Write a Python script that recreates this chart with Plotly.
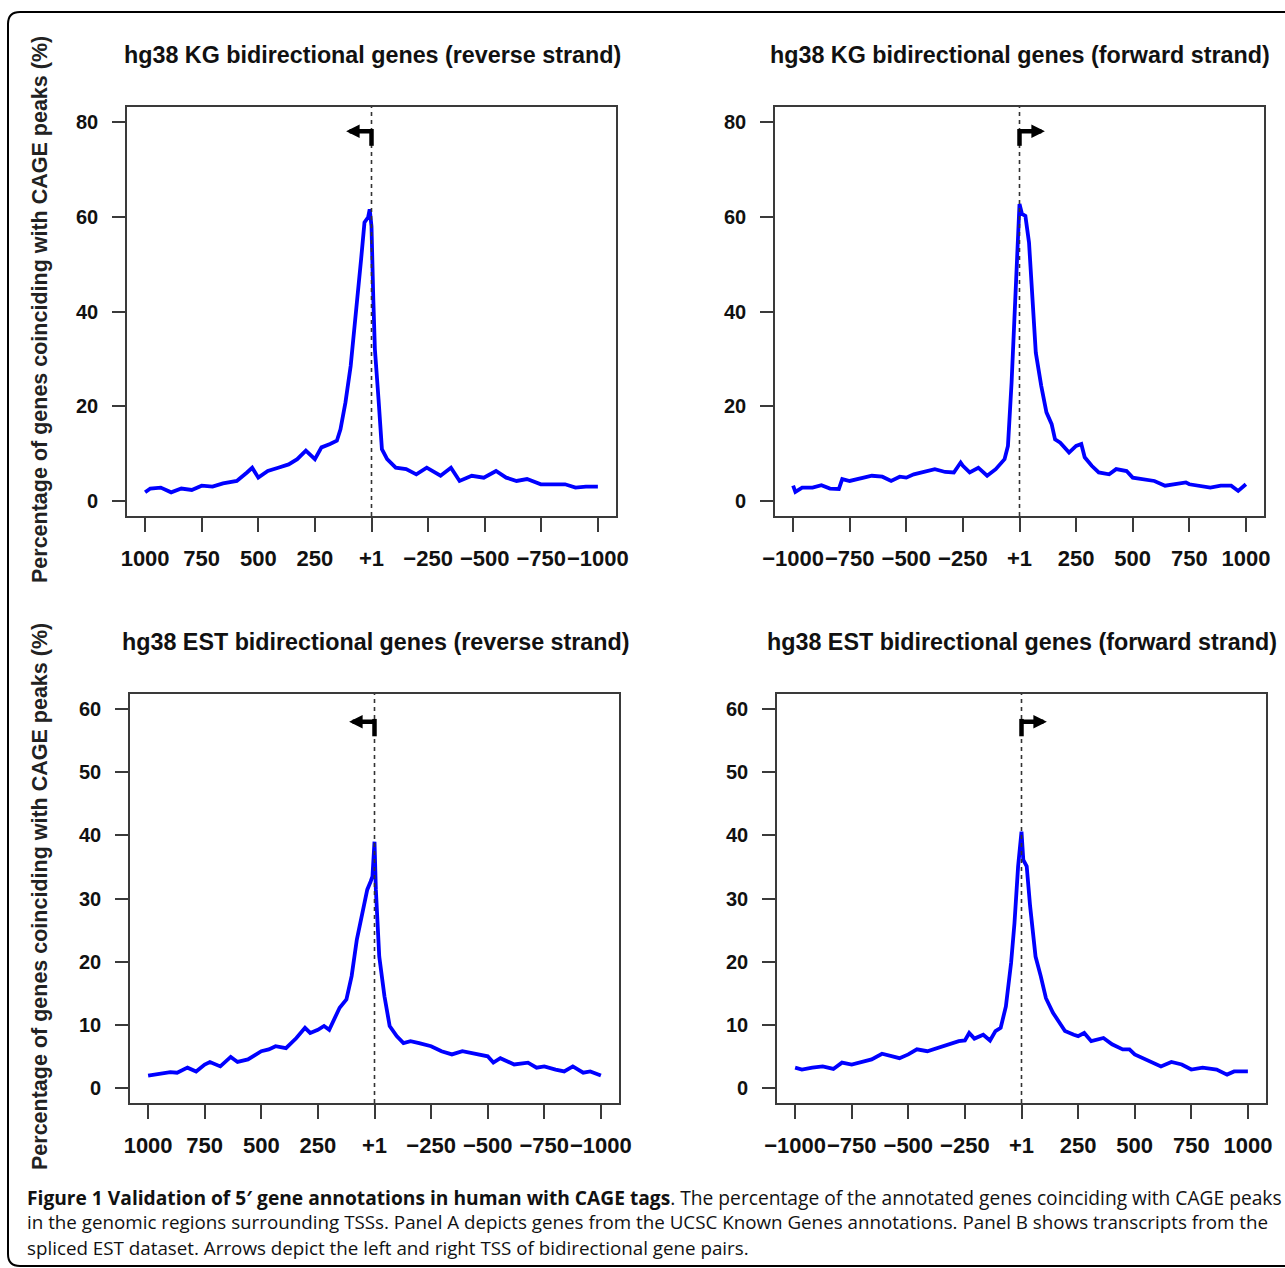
import plotly.graph_objects as go

W, H = 1285, 1268

# ---------------- data ----------------
# position relative to TSS (plot coordinate, left -> right), value in %
kg_rev_pos = [-1000, -977, -931, -885, -840, -794, -750, -702, -656, -595, -550, -527, -500, -458, -412,
              -366, -328, -290, -250, -221, -183, -153, -137, -115, -92, -69, -46, -31, -15, -8, 0, 8,
              15, 31, 46, 69, 107, 153, 198, 244, 305, 351, 389, 443, 496, 550, 595, 641, 687, 748, 794,
              855, 901, 947, 1000]
kg_rev_val = [1.8, 2.6, 2.8, 1.8, 2.6, 2.3, 3.2, 3.0, 3.7, 4.2, 6.0, 7.0, 4.9, 6.3, 7.0,
              7.7, 8.8, 10.6, 8.8, 11.3, 12.0, 12.7, 15.1, 20.8, 28.5, 39.1, 51.0, 58.8, 59.9, 61.6, 58.0, 42.6,
              32.0, 21.5, 10.9, 8.8, 7.0, 6.7, 5.6, 7.0, 5.3, 7.0, 4.2, 5.3, 4.9, 6.3, 4.9, 4.2, 4.6, 3.5, 3.5,
              3.5, 2.8, 3.0, 3.0]

kg_fwd_pos = [-1000, -990, -960, -914, -875, -837, -798, -783, -750, -698, -652, -606, -567, -529, -500,
              -467, -421, -374, -328, -290, -260, -250, -220, -182, -143, -105, -66, -51, -35, -20, -8, 0,
              11, 26, 42, 57, 72, 96, 119, 142, 157, 180, 219, 250, 273, 288, 319, 350, 396, 427, 473, 500,
              550, 596, 643, 689, 735, 750, 797, 843, 889, 935, 966, 1000]
kg_fwd_val = [3.2, 1.9, 2.8, 2.8, 3.3, 2.6, 2.5, 4.6, 4.2, 4.7, 5.3, 5.1, 4.2, 5.1, 4.9,
              5.6, 6.1, 6.7, 6.1, 6.0, 8.1, 7.4, 6.0, 7.0, 5.3, 6.7, 8.8, 11.6, 25.0, 42.6, 56.7, 62.7,
              60.6, 60.2, 54.6, 41.2, 31.3, 24.3, 18.7, 16.2, 13.0, 12.3, 10.2, 11.6, 12.0, 9.2, 7.4, 6.0, 5.6,
              6.7, 6.3, 4.9, 4.6, 4.2, 3.2, 3.5, 3.9, 3.5, 3.2, 2.8, 3.2, 3.2, 2.1, 3.5]

est_rev_pos = [-1000, -971, -940, -902, -872, -826, -788, -750, -727, -681, -635, -605, -559, -500, -467,
               -437, -391, -345, -307, -284, -250, -223, -200, -177, -154, -124, -101, -78, -55, -32, -17,
               -9, 0, 6, 21, 44, 67, 98, 128, 159, 197, 250, 296, 342, 388, 434, 464, 500, 525, 556, 617,
               678, 716, 750, 800, 838, 876, 922, 953, 1000]
est_rev_val = [1.95, 2.1, 2.3, 2.5, 2.4, 3.2, 2.6, 3.7, 4.1, 3.4, 4.9, 4.1, 4.5, 5.8, 6.1,
               6.6, 6.3, 7.9, 9.5, 8.7, 9.2, 9.8, 9.2, 11.1, 12.7, 14.0, 17.7, 23.5, 27.2, 31.4, 32.7,
               33.5, 39.0, 31.4, 20.8, 14.5, 9.8, 8.2, 7.1, 7.4, 7.1, 6.6, 5.8, 5.3, 5.8, 5.5, 5.3, 5.0, 4.0,
               4.7, 3.7, 4.0, 3.2, 3.4, 2.9, 2.6, 3.4, 2.4, 2.6, 1.95]

est_fwd_pos = [-1000, -970, -924, -878, -831, -793, -750, -708, -662, -616, -577, -539, -500, -462, -416,
               -370, -323, -277, -250, -231, -208, -169, -139, -115, -92, -69, -46, -31, -15, 0, 8, 23,
               38, 62, 85, 108, 139, 162, 192, 231, 250, 277, 308, 362, 400, 447, 477, 500, 539, 585, 616,
               662, 708, 750, 800, 862, 908, 939, 1000]
est_fwd_val = [3.2, 2.9, 3.2, 3.4, 3.0, 4.0, 3.7, 4.1, 4.5, 5.4, 5.1, 4.7, 5.3, 6.1, 5.8,
               6.3, 6.9, 7.4, 7.5, 8.7, 7.8, 8.4, 7.5, 9.0, 9.5, 12.9, 19.8, 26.1, 35.1, 40.6, 36.1, 35.1,
               28.8, 20.8, 17.7, 14.2, 11.9, 10.6, 9.0, 8.4, 8.2, 8.7, 7.4, 7.9, 6.9, 6.1, 6.1, 5.3, 4.7,
               4.0, 3.4, 4.1, 3.7, 2.9, 3.2, 2.9, 2.1, 2.6, 2.6]

x_tickvals = [-1000, -750, -500, -250, 0, 250, 500, 750, 1000]
rev_ticktext = ["1000", "750", "500", "250", "+1", "\u2212250", "\u2212500", "\u2212750", "\u22121000"]
fwd_ticktext = ["\u22121000", "\u2212750", "\u2212500", "\u2212250", "+1", "250", "500", "750", "1000"]
kg_yticks = [0, 20, 40, 60, 80]
est_yticks = [0, 10, 20, 30, 40, 50, 60]

titles = ["hg38 KG bidirectional genes (reverse strand)",
          "hg38 KG bidirectional genes (forward strand)",
          "hg38 EST bidirectional genes (reverse strand)",
          "hg38 EST bidirectional genes (forward strand)"]
ylabel = "Percentage of genes coinciding with CAGE peaks (%)"
caption = [
    "<b>Figure 1 Validation of 5\u2032 gene annotations in human with CAGE tags</b>. The percentage of the annotated genes coinciding with CAGE peaks",
    "in the genomic regions surrounding TSSs. Panel A depicts genes from the UCSC Known Genes annotations. Panel B shows transcripts from the",
    "spliced EST dataset. Arrows depict the left and right TSS of bidirectional gene pairs.",
]
caption_sizes = [19.2, 18.8, 18.8]

# ---------------- layout helpers ----------------
def px(x):
    return x / W

def py(y):
    return 1 - y / H

panels = [
    dict(box=(127, 616, 107, 516), pos=kg_rev_pos, val=kg_rev_val, ticktext=rev_ticktext,
         yticks=kg_yticks, yr=[-3.2, 83.2], direction=-1, arr=(75.0, 78.1)),
    dict(box=(775, 1264, 107, 516), pos=kg_fwd_pos, val=kg_fwd_val, ticktext=fwd_ticktext,
         yticks=kg_yticks, yr=[-3.2, 83.2], direction=1, arr=(75.0, 78.1)),
    dict(box=(130, 619, 694, 1103), pos=est_rev_pos, val=est_rev_val, ticktext=rev_ticktext,
         yticks=est_yticks, yr=[-2.4, 62.4], direction=-1, arr=(55.7, 58.0)),
    dict(box=(777, 1266, 694, 1103), pos=est_fwd_pos, val=est_fwd_val, ticktext=fwd_ticktext,
         yticks=est_yticks, yr=[-2.4, 62.4], direction=1, arr=(55.7, 58.0)),
]

FONT = "Liberation Sans, Arial, sans-serif"
AXC = "#3a3a3a"

fig = go.Figure()
layout = dict(width=W, height=H, autosize=False, margin=dict(l=0, r=0, t=0, b=0, pad=0),
              paper_bgcolor="white", plot_bgcolor="white", showlegend=False)
shapes, annotations = [], []

for i, p in enumerate(panels):
    n = "" if i == 0 else str(i + 1)
    xa, ya = "x" + n, "y" + n
    x0, x1, y0, y1 = p["box"]
    fig.add_trace(go.Scatter(x=p["pos"], y=p["val"], mode="lines", xaxis=xa, yaxis=ya,
                             line=dict(color="#0000FF", width=3.8), hoverinfo="skip"))
    layout["xaxis" + n] = dict(domain=[px(x0), px(x1)], anchor=ya, range=[-1080, 1080],
                               automargin=False,
                               tickvals=x_tickvals, ticktext=p["ticktext"], ticks="outside",
                               tickangle=0, ticklen=14, tickwidth=1.6, tickcolor=AXC, showline=True,
                               mirror=True, linecolor=AXC, linewidth=1.6, showgrid=False, zeroline=False,
                               tickfont=dict(family=FONT, size=22, color="#111", weight="bold"),
                               ticklabelstandoff=8, fixedrange=True)
    layout["yaxis" + n] = dict(domain=[py(y1), py(y0)], anchor=xa, range=p["yr"],
                               automargin=False,
                               tickvals=p["yticks"], ticks="outside", ticklen=13, tickwidth=1.6,
                               tickcolor=AXC, showline=True, mirror=True, linecolor=AXC,
                               linewidth=1.6, showgrid=False, zeroline=False,
                               tickfont=dict(family=FONT, size=20, color="#111", weight="bold"),
                               ticklabelstandoff=10, fixedrange=True)
    # dashed TSS line
    shapes.append(dict(type="line", xref=xa, yref=ya + " domain", x0=0, x1=0, y0=0, y1=1,
                       line=dict(color="#333", width=1.6, dash="4px,4px")))
    # bent TSS arrow: vertical stem + horizontal arrow
    ylo, yhi = p["arr"]
    shapes.append(dict(type="line", xref=xa, yref=ya, x0=0, x1=0, y0=ylo, y1=yhi + 0.45,
                       line=dict(color="black", width=4.5)))
    annotations.append(dict(xref=xa, yref=ya, axref=xa, ayref=ya, x=p["direction"] * 112, y=yhi,
                            ax=-p["direction"] * 8, ay=yhi, text="", showarrow=True, arrowhead=2,
                            arrowsize=0.6, arrowwidth=4.5, arrowcolor="black", standoff=0))
    # panel title
    annotations.append(dict(xref="paper", yref="paper", x=px((x0 + x1) / 2 + 1),
                            y=py(y0 - 52), text="<b>" + titles[i] + "</b>", showarrow=False,
                            xanchor="center", yanchor="middle",
                            font=dict(family=FONT, size=23.3, color="#111")))

# y-axis labels (one per row)
for yc in (310, 897):
    annotations.append(dict(xref="paper", yref="paper", x=px(40), y=py(yc), text="<b>" + ylabel + "</b>",
                            textangle=-90, showarrow=False, xanchor="center", yanchor="middle",
                            font=dict(family=FONT, size=21.5, color="#222")))

# caption
for line, yc, fs in zip(caption, (1197, 1222, 1248), caption_sizes):
    annotations.append(dict(xref="paper", yref="paper", x=px(25), y=py(yc), text=line,
                            showarrow=False, xanchor="left", yanchor="middle",
                            font=dict(family="Open Sans, sans-serif", size=fs, color="#111")))

# outer rounded frame (open on the right)
r = 12
frame = (f"M {px(1290)},{py(12)} L {px(8 + r)},{py(12)} "
         f"Q {px(8)},{py(12)} {px(8)},{py(12 + r)} "
         f"L {px(8)},{py(1266 - r)} Q {px(8)},{py(1266)} {px(8 + r)},{py(1266)} L {px(1290)},{py(1266)}")
shapes.append(dict(type="path", xref="paper", yref="paper", path=frame,
                   line=dict(color="black", width=2)))

layout["shapes"] = shapes
layout["annotations"] = annotations
fig.update_layout(**layout)
fig.write_html("out.html", config={"responsive": False},
               post_script="document.body.style.margin='0';document.body.style.padding='0';"
                           "document.documentElement.style.overflow='hidden';")
